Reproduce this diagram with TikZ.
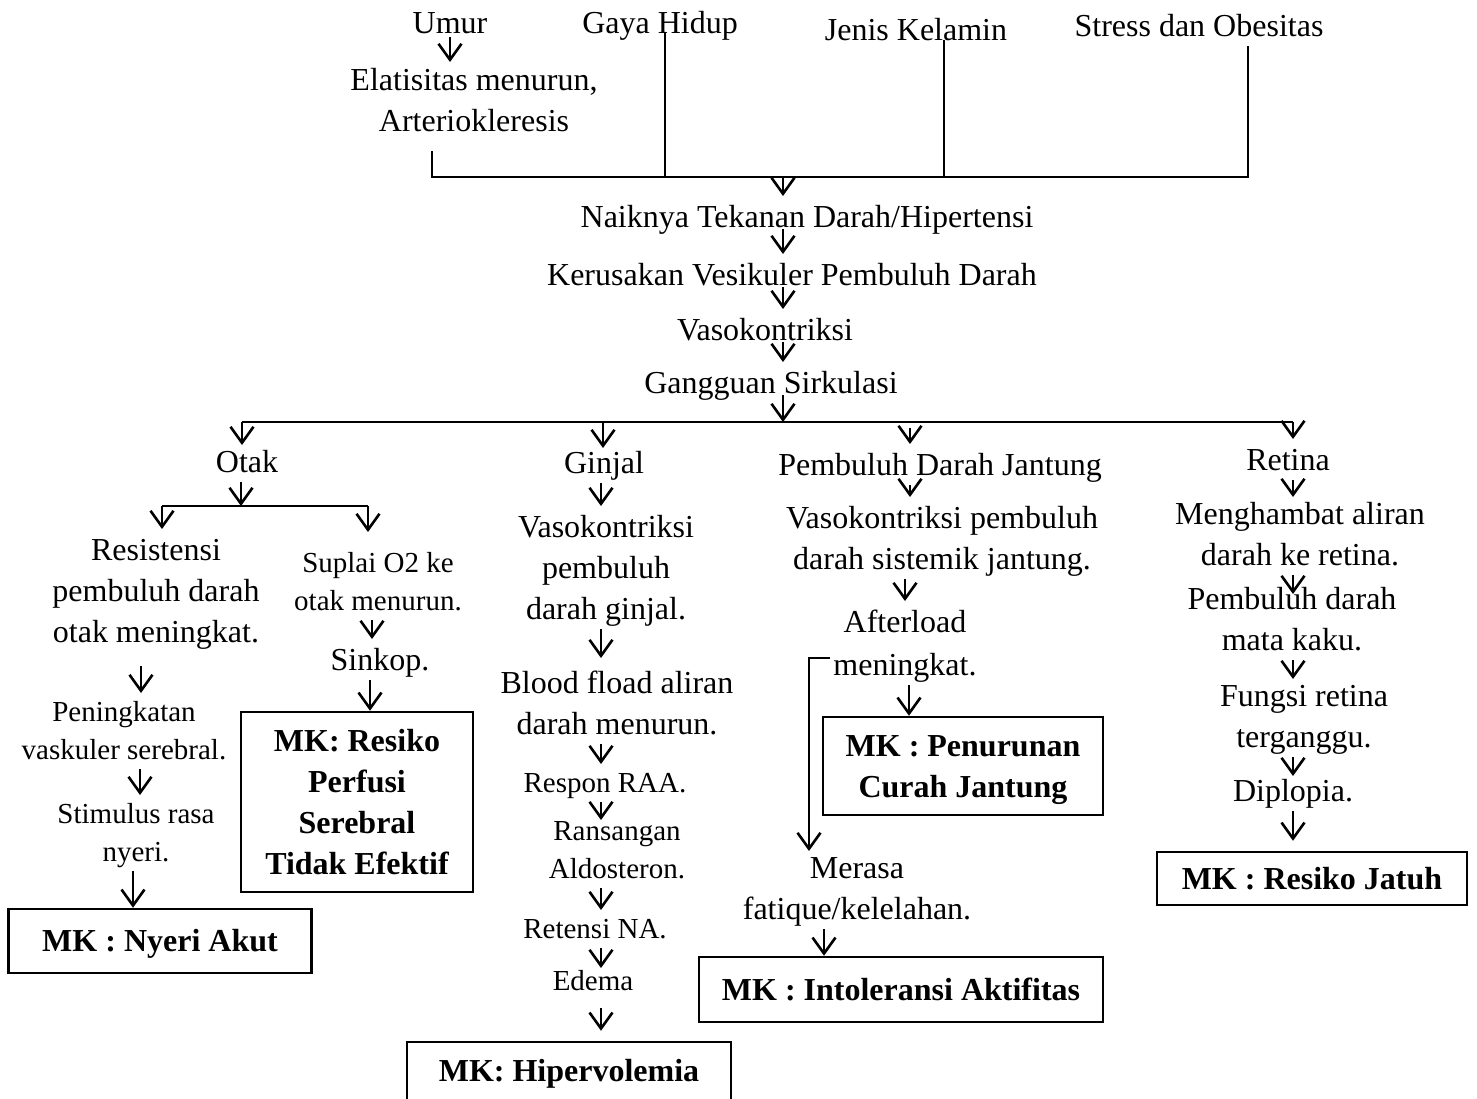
\documentclass[tikz,border=0pt]{standalone}
\usepackage{fontspec}
\setmainfont{Liberation Serif}
\usetikzlibrary{arrows.meta}
\newcommand\strA{\rule[-10pt]{0pt}{41pt}}
\newcommand\strB{\rule[-10pt]{0pt}{38pt}}
\tikzset{
  big/.style={inner sep=0pt, align=center, font=\fontsize{32}{41}\selectfont, anchor=north, yshift=31pt},
  small/.style={inner sep=0pt, align=center, font=\fontsize{29}{38}\selectfont, anchor=north, yshift=28pt},
  mk/.style={draw, line width=2.5pt, inner sep=0pt, align=center, font=\fontsize{32}{41}\selectfont\bfseries},
  arr/.style={line width=2.5pt, -{Straight Barb[length=16pt,width=23pt,line width=2.6pt]}},
  bar/.style={line width=2.5pt},
}
\begin{document}
\begin{tikzpicture}[x=1pt,y=-1pt]
\useasboundingbox (0,0) rectangle (1477,1098);
% ---------- top causes ----------
\node[big] (umur) at (450,33) {\strA Umur};
\node[big] (elat) at (474,90) {\strA Elatisitas menurun,\\\strA Arteriokleresis};
\node[big] (gaya) at (660,33) {\strA Gaya Hidup};
\node[big] (jenis) at (916,40) {\strA Jenis Kelamin};
\node[big] (stress) at (1199,36) {\strA Stress dan Obesitas};
\coordinate (b1L) at (432,177);
\coordinate (b1R) at (1248,177);
\coordinate (bG) at (665,177);
\coordinate (bJ) at (944,177);
\coordinate (t1) at (783,177);
\draw[arr, shorten <=-6pt] (umur.south) -- ([yshift=-3pt]umur.south |- elat.north);
\draw[bar] ([yshift=-10pt]elat.south -| b1L) -- (b1L) -- (b1R) -- (stress.south -| b1R);
\draw[bar] (gaya.base -| bG) -- (bG);
\draw[bar] (jenis.base -| bJ) -- (bJ);
% ---------- trunk ----------
\node[big] (naik) at (807,227) {\strA Naiknya Tekanan Darah/Hipertensi};
\node[big] (rusak) at (792,285) {\strA Kerusakan Vesikuler Pembuluh Darah};
\node[big] (vaso) at (765,340) {\strA Vasokontriksi};
\node[big] (gang) at (771,393) {\strA Gangguan Sirkulasi};
\coordinate (b2L) at (242,422);
\coordinate (b2R) at (1293,422);
\coordinate (b2G) at (603,422);
\coordinate (b2J) at (910,422);
\coordinate (b2T) at (783,422);
\draw[arr] (t1) -- (naik.north -| t1);
\draw[arr, shorten <=-8pt] (naik.south -| t1) -- (rusak.north -| t1);
\draw[arr, shorten <=-8pt] (rusak.south -| t1) -- (vaso.north -| t1);
\draw[arr, shorten <=-8pt] (vaso.south -| t1) -- (gang.north -| t1);
\draw[arr, shorten <=-8pt] (gang.south -| t1) -- (b2T);
\draw[bar] (b2L) -- (b2R);
% ---------- Otak ----------
\node[big] (otak) at (247,472) {\strA Otak};
\coordinate (s1) at (241,506);
\coordinate (sL) at (162,506);
\coordinate (sR) at (368,506);
\node[big] (resis) at (156,560) {\strA Resistensi\\\strA pembuluh darah\\\strA otak meningkat.};
\node[small] (suplai) at (378,572) {\strB Suplai O2 ke\\\strB otak menurun.};
\node[big] (sinkop) at (380,670) {\strA Sinkop.};
\node[small] (pening) at (124,721) {\strB Peningkatan\\\strB vaskuler serebral.};
\node[small] (stim) at (136,823) {\strB Stimulus rasa\\\strB nyeri.};
\node[mk, minimum width=303pt, minimum height=64pt] (nyeri) at (160,941) {\strA MK : Nyeri Akut};
\node[mk, minimum width=232pt, minimum height=180pt] (resiko) at (357,802) {\strA MK: Resiko\\\strA Perfusi\\\strA Serebral\\\strA Tidak Efektif};
\coordinate (cR) at (141,0);
\coordinate (cP) at (140,0);
\coordinate (cN) at (133,0);
\coordinate (cS) at (372,0);
\coordinate (cK) at (370,0);
\draw[arr] (b2L) -- ([yshift=-4pt]otak.north -| b2L);
\draw[arr] (otak.south -| s1) -- (s1);
\draw[bar] (sL) -- (sR);
\draw[arr] (sL) -- (resis.north -| sL);
\draw[arr] (sR) -- ([yshift=12pt]suplai.north -| sR);
\draw[arr, shorten <=14pt] (resis.south -| cR) -- (pening.north -| cR);
\draw[arr] (pening.south -| cP) -- (stim.north -| cP);
\draw[arr] (stim.south -| cN) -- (nyeri.north -| cN);
\draw[arr] (suplai.south -| cS) -- (sinkop.north -| cS);
\draw[arr] (sinkop.south -| cK) -- (resiko.north -| cK);
% ---------- Ginjal ----------
\coordinate (gx) at (601,0);
\node[big] (ginjal) at (604,473) {\strA Ginjal};
\node[big] (vk) at (606,537) {\strA Vasokontriksi\\\strA pembuluh\\\strA darah ginjal.};
\node[big] (blood) at (617,693) {\strA Blood fload aliran\\\strA darah menurun.};
\node[small] (respon) at (605,792) {\strB Respon RAA.};
\node[small] (rans) at (617,840) {\strB Ransangan\\\strB Aldosteron.};
\node[small] (retensi) at (595,938) {\strB Retensi NA.};
\node[small] (edema) at (593,990) {\strB Edema};
\node[mk, minimum width=324pt, minimum height=58pt] (hiper) at (569,1071) {\strA MK: Hipervolemia};
\draw[arr] (b2G) -- ([yshift=-6pt]ginjal.north -| b2G);
\draw[arr] (ginjal.south -| gx) -- (vk.north -| gx);
\draw[arr] (vk.south -| gx) -- ([yshift=4pt]blood.north -| gx);
\draw[arr] (blood.south -| gx) -- (respon.north -| gx);
\draw[arr] (respon.south -| gx) -- ([yshift=-8pt]rans.north -| gx);
\draw[arr] (rans.south -| gx) -- (retensi.north -| gx);
\draw[arr] (retensi.south -| gx) -- ([yshift=-6pt]edema.north -| gx);
\draw[arr] ([yshift=-8pt]edema.south -| gx) -- ([yshift=10pt]hiper.north -| gx);
% ---------- Jantung ----------
\coordinate (ja) at (905,0);
\coordinate (jb) at (909,0);
\coordinate (jm) at (824,0);
\node[big] (pdj) at (940,475) {\strA Pembuluh Darah Jantung};
\node[big] (vkp) at (942,528) {\strA Vasokontriksi pembuluh\\\strA darah sistemik jantung.};
\node[big] (after) at (905,632) {\strA Afterload\\[2pt]\strA meningkat.};
\node[big] (merasa) at (857,878) {\strA Merasa\\\strA fatique/kelelahan.};
\node[mk, minimum width=280pt, minimum height=98pt] (penurunan) at (963,766) {\strA MK : Penurunan\\\strA Curah Jantung};
\node[mk, minimum width=404pt, minimum height=65pt] (intol) at (901,989.5) {\strA MK : Intoleransi Aktifitas};
\coordinate (brk) at (830,658);
\draw[arr] ([yshift=-6pt]b2J) -- (pdj.north -| b2J);
\draw[arr] (pdj.south -| b2J) -- (vkp.north -| b2J);
\draw[arr] (vkp.south -| ja) -- (after.north -| ja);
\draw[arr] (after.south -| jb) -- (penurunan.north -| jb);
\draw[arr] (brk) -| ([xshift=-48pt,yshift=-4pt]merasa.north);
\draw[arr] (merasa.south -| jm) -- (intol.north -| jm);
% ---------- Retina ----------
\node[big] (retina) at (1288,470) {\strA Retina};
\node[big] (mengh) at (1300,524) {\strA Menghambat aliran\\\strA darah ke retina.};
\node[big] (pdm) at (1292,609) {\strA Pembuluh darah\\\strA mata kaku.};
\node[big] (fungsi) at (1304,706) {\strA Fungsi retina\\\strA terganggu.};
\node[big] (diplo) at (1293,801) {\strA Diplopia.};
\node[mk, minimum width=310pt, minimum height=53pt] (jatuh) at (1312,878.5) {\strA MK : Resiko Jatuh};
\draw[arr] (b2R) -- (retina.north -| b2R);
\draw[arr] (retina.south -| b2R) -- ([yshift=-4pt]mengh.north -| b2R);
\draw[arr] (mengh.south -| b2R) -- ([yshift=-16pt]pdm.north -| b2R);
\draw[arr] (pdm.south -| b2R) -- ([yshift=-4pt]fungsi.north -| b2R);
\draw[arr] (fungsi.south -| b2R) -- ([yshift=-6pt]diplo.north -| b2R);
\draw[arr] (diplo.south -| b2R) -- ([yshift=10pt]jatuh.north -| b2R);
\end{tikzpicture}
\end{document}
